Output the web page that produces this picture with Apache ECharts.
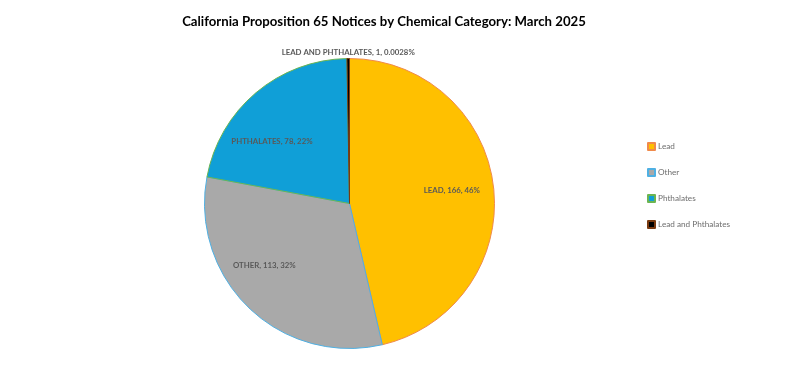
<!DOCTYPE html>
<html>
<head>
<meta charset="utf-8">
<script src="https://cdn.jsdelivr.net/npm/echarts@6/dist/echarts.min.js"></script>
<style>
html,body{margin:0;padding:0;background:#fff;}
#chart{width:795px;height:381px;}
</style>
</head>
<body>
<div id="chart"></div>
<script>
// Data
const categories = ['Lead', 'Other', 'Phthalates', 'Lead and Phthalates'];
const values = [166, 113, 78, 1];
const percentLabels = ['46%', '32%', '22%', '0.0028%'];

// Styles
const fills = ['#FFC000', '#A9A9A9', '#109FD7', '#000000'];
const borders = ['#F08A4B', '#4FB0E3', '#6CB552', '#7A3A10'];
const labelOffsets = [[0, -1], [-14, -12], [-11, 17], [0, 0]];

const chart = echarts.init(document.getElementById('chart'));

const mainData = categories.map((c, i) => ({
  name: c,
  value: values[i],
  itemStyle: { color: fills[i], borderColor: borders[i], borderWidth: 1 }
}));

const labelData = categories.map((c, i) => ({
  name: c,
  value: values[i],
  label: { offset: labelOffsets[i] }
}));

const center = [349.5, 203.5];
const R = 145;

chart.setOption({
  animation: false,
  backgroundColor: '#ffffff',
  title: {
    text: 'California Proposition 65 Notices by Chemical Category: March 2025',
    left: 379,
    textAlign: 'center',
    top: 10,
    textStyle: { fontFamily: 'Lato', fontWeight: 'bold', fontSize: 13.2, color: '#000' }
  },
  legend: {
    orient: 'vertical',
    left: 642,
    top: 137,
    itemWidth: 7,
    itemHeight: 7,
    itemGap: 17,
    icon: 'rect',
    data: categories,
    textStyle: { fontFamily: 'Lato', fontSize: 8.2, color: '#6e6e6e', padding: [0, 0, 0, -2] }
  },
  series: [
    {
      type: 'pie',
      center: center,
      radius: R,
      startAngle: 90,
      clockwise: true,
      silent: true,
      label: { show: false },
      labelLine: { show: false },
      data: mainData
    },
    {
      type: 'pie',
      center: center,
      radius: [R * 0.38, R],
      startAngle: 90,
      clockwise: true,
      silent: true,
      itemStyle: { color: 'rgba(0,0,0,0)', borderWidth: 0 },
      labelLine: { show: false },
      label: {
        show: true,
        position: 'inside',
        fontFamily: 'Lato',
        fontWeight: 'bold',
        fontSize: 7.8,
        color: '#595959',
        formatter: p => p.name.toUpperCase() + ', ' + p.value + ', ' + percentLabels[p.dataIndex]
      },
      labelLayout: function (params) {
        if (params.dataIndex === 3) {
          return {
            x: params.rect.x + params.rect.width / 2,
            y: params.rect.y - 6,
            align: 'center',
            verticalAlign: 'middle'
          };
        }
        return {};
      },
      data: labelData
    }
  ]
});
</script>
</body>
</html>
